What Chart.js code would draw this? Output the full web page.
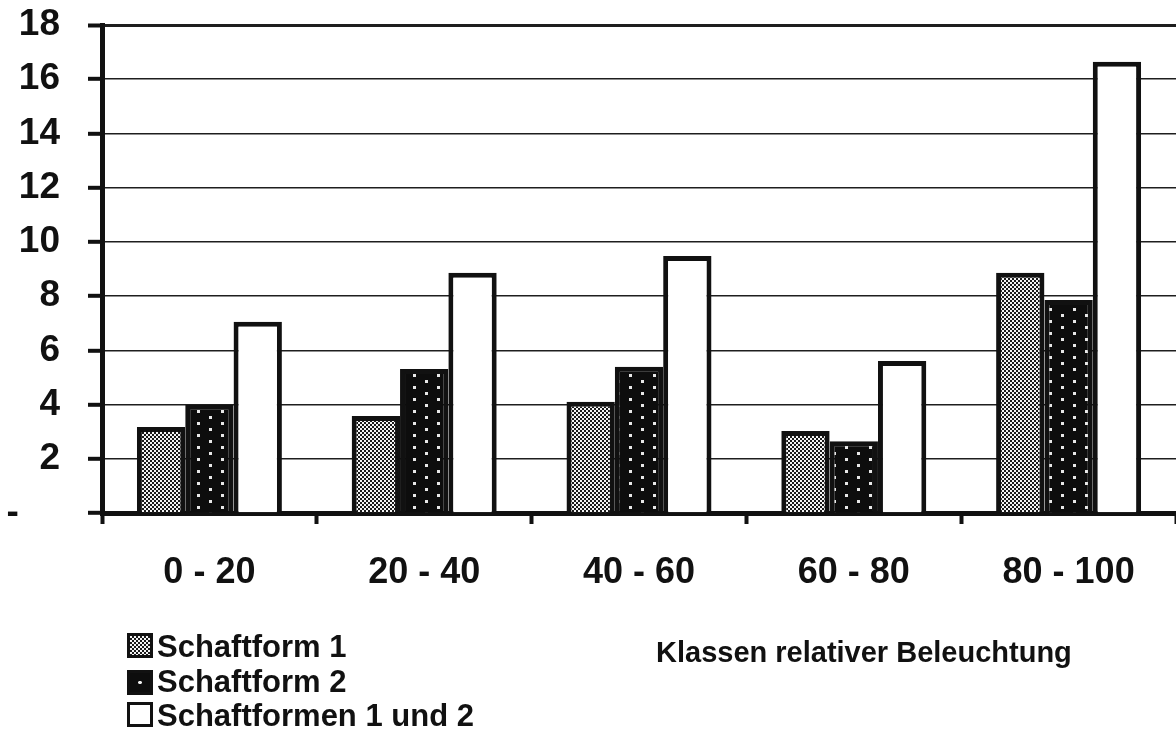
<!DOCTYPE html>
<html>
<head>
<meta charset="utf-8">
<script src="https://cdn.jsdelivr.net/npm/chart.js@4/dist/chart.umd.min.js"></script>
<style>
html,body{margin:0;padding:0;background:#fff;}
#wrap{position:relative;width:1176px;height:729px;overflow:hidden;font-family:"Liberation Sans",Arial,sans-serif;font-weight:bold;color:#111;}
#c{position:absolute;left:0;top:0;}
.txt{position:absolute;line-height:1;white-space:nowrap;}
.sw{position:absolute;box-sizing:border-box;width:26px;height:25px;border:3px solid #111;}
</style>
</head>
<body>
<div id="wrap">
  <canvas id="c" width="1176" height="729"></canvas>
</div>
<script>
// ---- data ----
const categories = ['0 - 20', '20 - 40', '40 - 60', '60 - 80', '80 - 100'];
const schaftform1 = [3.17, 3.58, 4.10, 3.02, 8.86];
const schaftform2 = [3.99, 5.31, 5.39, 2.65, 7.86];
const schaftformen12 = [7.05, 8.86, 9.48, 5.61, 16.64];
const seriesLabels = ['Schaftform 1', 'Schaftform 2', 'Schaftformen 1 und 2'];
const yTickValues = [0, 2, 4, 6, 8, 10, 12, 14, 16, 18];
const xAxisTitle = 'Klassen relativer Beleuchtung';

// ---- patterns ----
const canvas = document.getElementById('c');
const ctx = canvas.getContext('2d');

function makeChecker() {
  const c = document.createElement('canvas');
  c.width = 4; c.height = 4;
  const g = c.getContext('2d');
  g.fillStyle = '#1a1a1a'; g.fillRect(0, 0, 4, 4);
  g.fillStyle = '#f4f4f4'; g.fillRect(0, 0, 2, 2); g.fillRect(2, 2, 2, 2);
  return ctx.createPattern(c, 'repeat');
}
function makeDots() {
  const c = document.createElement('canvas');
  c.width = 24; c.height = 12;
  const g = c.getContext('2d');
  g.fillStyle = '#0d0d0d'; g.fillRect(0, 0, 24, 12);
  g.fillStyle = '#e8e8e8';
  g.fillRect(5, 2, 3, 3);
  g.fillRect(17, 8, 3, 3);
  return ctx.createPattern(c, 'repeat');
}
const fills = [makeChecker(), makeDots(), '#ffffff'];
const seriesValues = [schaftform1, schaftform2, schaftformen12];

const yFont = {family: '"Liberation Sans", Arial, sans-serif', weight: 'bold', size: 37};
const xFont = {family: '"Liberation Sans", Arial, sans-serif', weight: 'bold', size: 36};

new Chart(ctx, {
  type: 'bar',
  data: {
    labels: categories,
    datasets: seriesValues.map((vals, i) => ({
      label: seriesLabels[i],
      data: vals,
      backgroundColor: fills[i],
      borderColor: '#111',
      borderWidth: 5,
      categoryPercentage: 0.675,
      barPercentage: 1.0
    }))
  },
  options: {
    responsive: false,
    devicePixelRatio: 1,
    animation: false,
    layout: {padding: {top: 0, left: 0, right: 0, bottom: 0}},
    plugins: {legend: {display: false}, tooltip: {enabled: false}, title: {display: false}},
    scales: {
      y: {
        min: 0, max: 18,
        afterFit(s) { s.width = 102; s.paddingTop = 25; s.paddingBottom = 0; },
        afterBuildTicks(s) { s.ticks = yTickValues.map(v => ({value: v})); },
        ticks: {
          color: '#111', font: yFont, padding: 28,
          callback: v => (v === 0 ? '-    ' : String(v))
        },
        grid: {
          color: '#1e1e1e',
          lineWidth: c => (c.tick && c.tick.value === 18 ? 3 : 1.6),
          drawTicks: true, tickLength: 14, tickWidth: 4, tickColor: '#111'
        },
        border: {display: true, color: '#111', width: 5}
      },
      x: {
        afterFit(s) { s.height = 216; },
        ticks: {color: '#111', font: xFont, padding: 27, maxRotation: 0, autoSkip: false},
        grid: {drawOnChartArea: false, drawTicks: true, tickLength: 11, tickWidth: 4, tickColor: '#111', offset: true},
        border: {display: true, color: '#111', width: 5}
      }
    }
  }
});

// ---- legend & axis title (HTML text) ----
const wrap = document.getElementById('wrap');
const swatchCss = [
  'background:repeating-conic-gradient(#1a1a1a 0 25%, #f4f4f4 0 50%) 0 0/4px 4px;',
  'background:#0d0d0d radial-gradient(circle, #eee 0 1.6px, transparent 2px) center/100% 100% no-repeat;',
  'background:#fff;'
];
const swTops = [633, 670, 702];
const txtTops = [631, 666, 700];
seriesLabels.forEach((lab, i) => {
  const sw = document.createElement('div');
  sw.className = 'sw';
  sw.style.cssText = 'left:127px;top:' + swTops[i] + 'px;' + swatchCss[i];
  wrap.appendChild(sw);
  const t = document.createElement('div');
  t.className = 'txt';
  t.style.cssText = 'left:157px;top:' + txtTops[i] + 'px;font-size:31px;';
  t.textContent = lab;
  wrap.appendChild(t);
});
const title = document.createElement('div');
title.className = 'txt';
title.style.cssText = 'left:656px;top:638px;font-size:29px;';
title.textContent = xAxisTitle;
wrap.appendChild(title);
</script>
</body>
</html>
